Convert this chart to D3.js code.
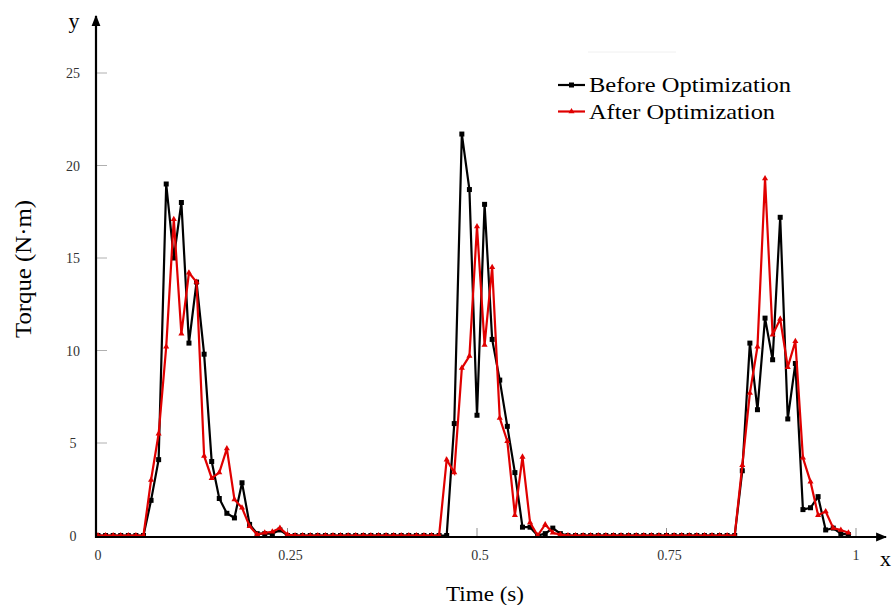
<!DOCTYPE html>
<html>
<head>
<meta charset="utf-8">
<script src="https://cdn.jsdelivr.net/npm/d3@7"></script>
<style>
body { margin: 0; background: #fff; }
text { font-family: "Liberation Serif", "DejaVu Serif", serif; }
</style>
</head>
<body>
<div class="contents"></div>
<script>
var width = 893;
var height = 605;

// time grid (s), one sample every 0.01 s
var time = [0,0.01,0.02,0.03,0.04,0.05,0.06,0.07,0.08,0.09,
	0.1,0.11,0.12,0.13,0.14,0.15,0.16,0.17,0.18,0.19,
	0.2,0.21,0.22,0.23,0.24,0.25,0.26,0.27,0.28,0.29,
	0.3,0.31,0.32,0.33,0.34,0.35,0.36,0.37,0.38,0.39,
	0.4,0.41,0.42,0.43,0.44,0.45,0.46,0.47,0.48,0.49,
	0.5,0.51,0.52,0.53,0.54,0.55,0.56,0.57,0.58,0.59,
	0.6,0.61,0.62,0.63,0.64,0.65,0.66,0.67,0.68,0.69,
	0.7,0.71,0.72,0.73,0.74,0.75,0.76,0.77,0.78,0.79,
	0.8,0.81,0.82,0.83,0.84,0.85,0.86,0.87,0.88,0.89,
	0.9,0.91,0.92,0.93,0.94,0.95,0.96,0.97,0.98,0.99];

var before = [0,0,0,0,0,0,0,1.9,4.1,19.0,
	15.0,18.0,10.4,13.7,9.8,4.0,2.0,1.2,0.95,2.85,
	0.6,0.1,0.1,0.1,0.3,0,0,0,0,0,
	0,0,0,0,0,0,0,0,0,0,
	0,0,0,0,0,0,0,6.05,21.7,18.7,
	6.5,17.9,10.6,8.4,5.9,3.4,0.45,0.45,0,0.1,
	0.4,0.1,0,0,0,0,0,0,0,0,
	0,0,0,0,0,0,0,0,0,0,
	0,0,0,0,0,3.5,10.4,6.8,11.75,9.5,
	17.2,6.3,9.3,1.4,1.5,2.1,0.3,0.4,0.1,0.05];

var after = [0,0,0,0,0,0,0,3.0,5.5,10.2,
	17.1,10.9,14.2,13.7,4.3,3.1,3.4,4.7,1.95,1.5,
	0.5,0.05,0.15,0.2,0.4,0.05,0,0,0,0,
	0,0,0,0,0,0,0,0,0,0,
	0,0,0,0,0,0,4.1,3.4,9.05,9.7,
	16.7,10.3,14.5,6.35,5.1,1.1,4.25,0.7,0,0.6,
	0.15,0.05,0,0,0,0,0,0,0,0,
	0,0,0,0,0,0,0,0,0,0,
	0,0,0,0,0,3.8,7.7,10.2,19.3,10.85,
	11.7,9.1,10.5,4.2,2.9,1.1,1.3,0.4,0.3,0.15];

var xTicks = [0, 0.25, 0.5, 0.75, 1];
var xTickLabels = ["0", "0.25", "0.5", "0.75", "1"];
var yTicks = [0, 5, 10, 15, 20, 25];
var seriesNames = ["Before Optimization", "After Optimization"];

var x = d3.scaleLinear().domain([0, 1]).range([98, 856]);
var y = d3.scaleLinear().domain([0, 25]).range([535.5, 73]);

var svg = d3.select(".contents").append("svg")
	.attr("width", width)
	.attr("height", height);

var defs = svg.append("defs");
defs.append("marker")
	.attr("id", "arrow")
	.attr("viewBox", "0 0 10 10")
	.attr("refX", 9).attr("refY", 5)
	.attr("markerWidth", 5).attr("markerHeight", 5)
	.attr("markerUnits", "strokeWidth")
	.attr("orient", "auto")
	.append("path")
	.attr("d", "M0,1 L10,5 L0,9 Z")
	.style("fill", "black");

var axisY0 = 537;
var axisX0 = 96;

// grey tick marks
svg.selectAll(".ytick")
	.data(yTicks.filter(function(d){return d > 0;}))
	.enter().append("line")
	.attr("x1", axisX0).attr("x2", axisX0 + 11)
	.attr("y1", function(d){return y(d);})
	.attr("y2", function(d){return y(d);})
	.style("stroke", "#b0b0b0").style("stroke-width", 1);

svg.selectAll(".xtick")
	.data(xTicks.filter(function(d){return d > 0;}))
	.enter().append("line")
	.attr("x1", function(d){return x(d);})
	.attr("x2", function(d){return x(d);})
	.attr("y1", axisY0).attr("y2", axisY0 - 9)
	.style("stroke", "#909090").style("stroke-width", 1);

// tick labels
svg.selectAll(".ylab")
	.data(yTicks)
	.enter().append("text")
	.attr("x", 73)
	.attr("y", function(d){return y(d) + 5;})
	.attr("text-anchor", "middle")
	.style("font-size", "14px")
	.style("fill", "#333")
	.text(function(d){return d;});

svg.selectAll(".xlab")
	.data(xTicks)
	.enter().append("text")
	.attr("x", function(d){return x(d) + (d > 0 && d < 1 ? 3 : 0);})
	.attr("y", 560)
	.attr("text-anchor", "middle")
	.style("font-size", "14px")
	.style("fill", "#333")
	.text(function(d, i){return xTickLabels[i];});

// series
var line = d3.line()
	.x(function(d){return x(d[0]);})
	.y(function(d){return y(d[1]);});

var beforePts = time.map(function(t, i){return [t, before[i]];});
var afterPts = time.map(function(t, i){return [t, after[i]];});

svg.append("path")
	.datum(beforePts)
	.attr("d", line)
	.style("fill", "none")
	.style("stroke", "black")
	.style("stroke-width", 2.2);

svg.selectAll(".sq")
	.data(beforePts)
	.enter().append("rect")
	.attr("x", function(d){return x(d[0]) - 2.5;})
	.attr("y", function(d){return y(d[1]) - 2.5;})
	.attr("width", 5).attr("height", 5)
	.style("fill", "black");

svg.append("path")
	.datum(afterPts)
	.attr("d", line)
	.style("fill", "none")
	.style("stroke", "#e00000")
	.style("stroke-width", 2.2);

var tri = d3.symbol().type(d3.symbolTriangle).size(16);
svg.selectAll(".tri")
	.data(afterPts)
	.enter().append("path")
	.attr("d", tri)
	.attr("transform", function(d){return "translate(" + x(d[0]) + "," + y(d[1]) + ")";})
	.style("fill", "#e00000");

// axes with arrows
svg.append("line")
	.attr("x1", axisX0).attr("y1", axisY0 + 1)
	.attr("x2", axisX0).attr("y2", 16)
	.style("stroke", "black").style("stroke-width", 2.2)
	.attr("marker-end", "url(#arrow)");

svg.append("line")
	.attr("x1", axisX0 - 1).attr("y1", axisY0)
	.attr("x2", 886).attr("y2", axisY0)
	.style("stroke", "black").style("stroke-width", 2.2)
	.attr("marker-end", "url(#arrow)");

svg.append("text").attr("x", 74).attr("y", 28)
	.attr("text-anchor", "middle")
	.style("font-size", "22px").text("y");
svg.append("text").attr("x", 880).attr("y", 566)
	.style("font-size", "22px").text("x");

// axis titles
svg.append("text")
	.attr("x", 446).attr("y", 601)
	.attr("textLength", 78)
	.attr("lengthAdjust", "spacingAndGlyphs")
	.style("font-size", "22px")
	.text("Time (s)");

svg.append("text")
	.attr("transform", "translate(31,338) rotate(-90)")
	.attr("textLength", 138)
	.attr("lengthAdjust", "spacingAndGlyphs")
	.style("font-size", "23px")
	.text("Torque (N\u00b7m)");

// legend
svg.append("line")
	.attr("x1", 588).attr("x2", 676).attr("y1", 52).attr("y2", 52)
	.style("stroke", "#f0f0f0").style("stroke-width", 1);

var legend = svg.selectAll(".leg")
	.data(seriesNames)
	.enter().append("g")
	.attr("transform", function(d, i){return "translate(558," + (85 + i * 26.5) + ")";});

legend.append("line")
	.attr("x1", 0).attr("x2", 27).attr("y1", 0).attr("y2", 0)
	.style("stroke", function(d, i){return i == 0 ? "black" : "#e00000";})
	.style("stroke-width", 2.2);

legend.filter(function(d, i){return i == 0;}).append("rect")
	.attr("x", 11).attr("y", -2.5).attr("width", 5).attr("height", 5)
	.style("fill", "black");

legend.filter(function(d, i){return i == 1;}).append("path")
	.attr("d", tri)
	.attr("transform", "translate(13.5,0)")
	.style("fill", "#e00000");

legend.append("text")
	.attr("x", 31).attr("y", 7)
	.attr("textLength", function(d, i){return i == 0 ? 202 : 186;})
	.attr("lengthAdjust", "spacingAndGlyphs")
	.style("font-size", "22px")
	.text(function(d){return d;});
</script>
</body>
</html>
